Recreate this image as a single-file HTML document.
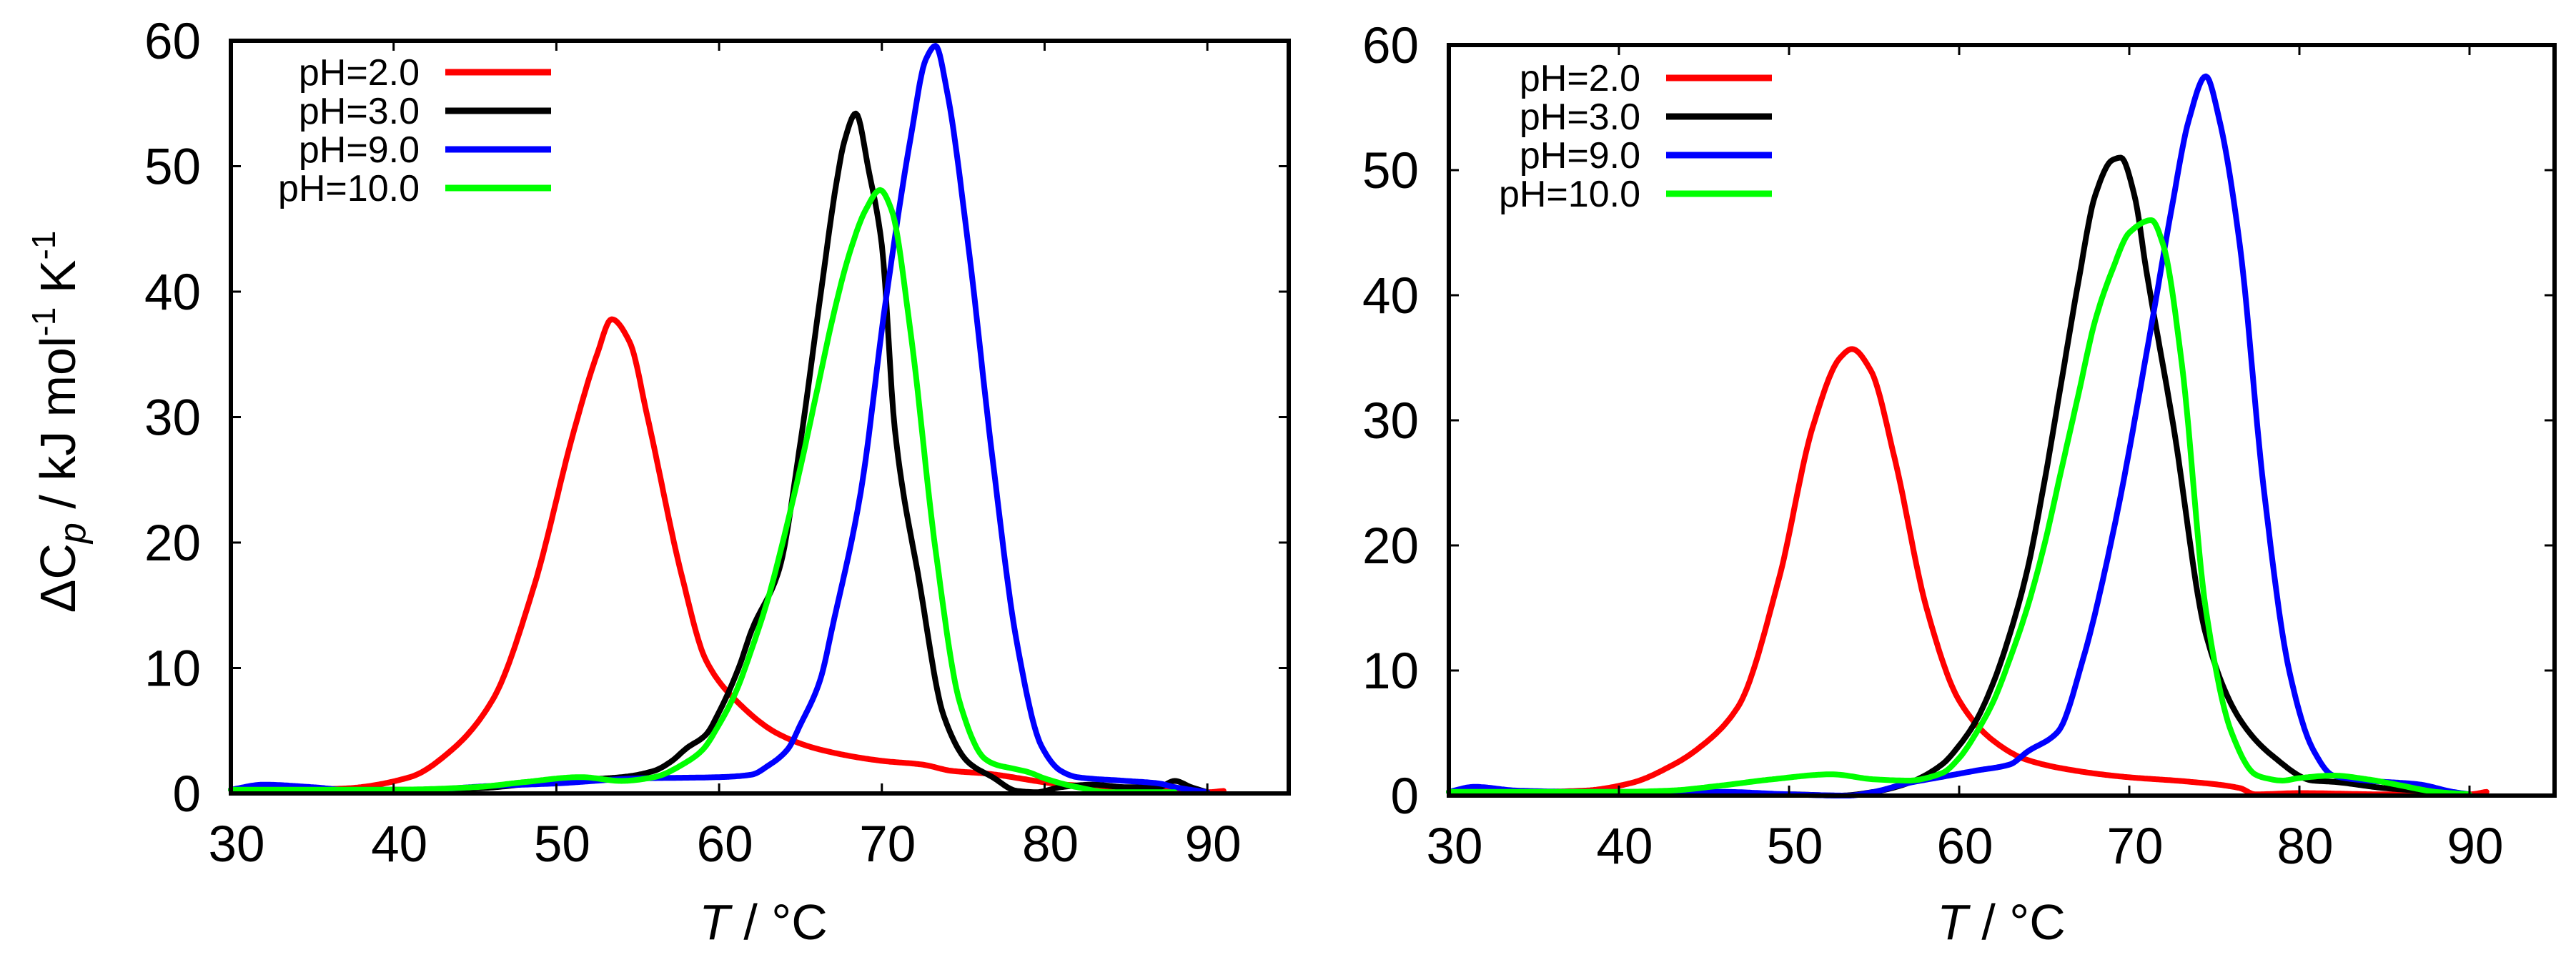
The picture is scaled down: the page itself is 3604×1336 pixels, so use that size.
<!DOCTYPE html>
<html><head><meta charset="utf-8"><style>
html,body{margin:0;padding:0;background:#fff;}
svg{display:block;font-family:"Liberation Sans",sans-serif;}
</style></head><body>
<svg id="fig" width="3604" height="1336" viewBox="0 0 3604 1336" xmlns="http://www.w3.org/2000/svg"></svg>
<script>
// ---- Data (left panel) ----
const L_red_T=[30,34,37,41,43.6,46.1,48.6,51.1,52.5,53.4,54.5,55.6,57.7,59.2,61.2,63.7,66.2,70,72.5,74.3,76.3,81.3,86,88,90,91];
const L_red_V=[0.3,0.3,0.4,1.3,3.5,7.5,16.4,29,35,37.8,36,30,17.4,10.6,7.2,4.7,3.5,2.6,2.3,1.8,1.6,0.7,0.4,0.3,0.1,0.2];
const L_blk_T=[30,35,40,45,50,54,56,57,58,59.2,60,61.2,62,63.7,65,66.2,67.2,67.7,68.4,69.2,70,70.8,72.3,73.8,75.3,76.8,78.3,79.5,81,83,85,87,88,89,90];
const L_blk_V=[0.3,0.3,0.3,0.4,1,1.3,1.8,2.5,3.6,4.7,6.5,10,13,17.9,28,39.4,48.6,52,54.2,49.6,43.7,29,16.9,6.2,2.5,1.3,0.2,0.1,0.5,0.7,0.5,0.5,1,0.5,0.1];
const L_blu_T=[30,32,35,38,42,46,50,55,60,62,63,64.2,65,66.2,67,68.7,70.2,71.8,72.7,73.3,74,75.3,76.8,78.3,79.8,81,82,85,87,88,90];
const L_blu_V=[0.3,0.7,0.5,0.2,0.3,0.6,0.8,1.2,1.3,1.5,2.2,3.5,5.5,9,13.5,24,38.9,52.5,58.5,59.6,56,43.8,26.7,12,3.8,1.8,1.3,1,0.8,0.5,0.1];
const L_grn_T=[30,35,40,45,48,51.5,54,56,58,59,60,61,62,63,64,65,66,67,68,69,69.9,70.6,71.8,73.3,74.8,76.3,77,78,79,80,82,84,88];
const L_grn_V=[0.3,0.3,0.3,0.5,0.9,1.3,1.0,1.3,2.5,3.5,5.5,8,11.5,15.5,20.5,26,32,38,43,46.5,48.1,46.5,36.4,19.4,7.2,2.8,2.3,2,1.7,1.2,0.5,0.1,0.1];
// ---- Data (right panel) ----
const R_red_T=[30,35,38,40.7,43.1,44.6,47,49.4,51.4,53,53.7,54.8,56.2,58.1,60,62,63.9,66.8,69.7,73.6,76.5,77.4,80,85,90,91];
const R_red_V=[0.3,0.3,0.4,1,2.4,3.7,7.1,17.3,29.5,35,35.7,34,27,14.9,7.6,4.4,2.9,2,1.5,1.1,0.6,0.1,0.2,0.1,0.1,0.3];
const R_blk_T=[30,35,38,40,45,50,53,55,57,59,60,61,62,63,64,65,66,67,68,69,69.5,70.3,71,72.6,74.5,76.5,78.4,80.8,82,85,88,90];
const R_blk_V=[0.3,0.3,0.3,0.2,0.1,0.1,0,0.3,1,2.5,4,6,9,13,18,25,33,41,48,50.8,51,48,42,29.5,12.9,6.1,3.2,1.2,1.1,0.6,0.3,0.1];
const R_blu_T=[30,31.5,34,38,43,46,50,53.5,55,57,59,61,63,64,65.8,67.3,69.2,71.2,72.5,73.5,74.5,75.3,76.5,77.9,79.4,80.8,82,84,87,89,90];
const R_blu_V=[0.3,0.7,0.4,0.3,0.3,0.3,0.1,0,0.3,1,1.5,2,2.5,3.5,5.1,11,22,36.8,47,54,57.5,54,44,24.6,10,3.7,1.6,1.2,0.9,0.3,0.1];
const R_grn_T=[30,35,40,43,46,49,52.5,55,57,59,60,61,62,63,64,65,66,67,68,69,70,71.3,72,73.1,74.5,76,77.4,78,79,80,82,84,86,88,90];
const R_grn_V=[0.3,0.3,0.3,0.4,0.8,1.3,1.7,1.3,1.2,1.8,3,5,7.5,11,15,20,26,32,38,42,45,46,44,34.4,14.9,5.1,1.7,1.4,1.2,1.4,1.6,1.3,0.8,0.3,0.1];
const xTicks=[30,40,50,60,70,80,90];
const yTicks=[0,10,20,30,40,50,60];
const legendLabels=["pH=2.0","pH=3.0","pH=9.0","pH=10.0"];
const colors=["#ff0000","#000000","#0000ff","#00ff00"];

const NS="http://www.w3.org/2000/svg";
const svg=document.getElementById('fig');
function mk(tag,attrs,parent){const e=document.createElementNS(NS,tag);for(const k in attrs)e.setAttribute(k,attrs[k]);(parent||svg).appendChild(e);return e;}

// monotone cubic (Fritsch-Carlson) interpolation, sampled densely
function monotone(T,V){
  const n=T.length,d=[],m=new Array(n);
  for(let i=0;i<n-1;i++)d.push((V[i+1]-V[i])/(T[i+1]-T[i]));
  m[0]=d[0];m[n-1]=d[n-2];
  for(let i=1;i<n-1;i++){
    if(d[i-1]*d[i]<=0)m[i]=0;
    else{const w1=2*(T[i+1]-T[i])+(T[i]-T[i-1]),w2=(T[i+1]-T[i])+2*(T[i]-T[i-1]);m[i]=(w1+w2)/(w1/d[i-1]+w2/d[i]);}
  }
  const out=[];
  for(let i=0;i<n-1;i++){
    const h=T[i+1]-T[i];const steps=Math.max(2,Math.ceil(h/0.1));
    for(let s=0;s<steps;s++){
      const t=s/steps,t2=t*t,t3=t2*t;
      const v=(2*t3-3*t2+1)*V[i]+(t3-2*t2+t)*h*m[i]+(-2*t3+3*t2)*V[i+1]+(t3-t2)*h*m[i+1];
      out.push([T[i]+t*h,v]);
    }
  }
  out.push([T[n-1],V[n-1]]);
  return out;
}

function panel(p){
  const g=mk('g',{});
  
  
  const X=t=>p.x0+(t-30)*(p.x1-p.x0)/65;
  const Y=v=>p.y0-(v)*(p.y0-p.y1)/60;
  p.series.forEach((s,i)=>{
    const pts=monotone(s.T,s.V).map(q=>X(q[0]).toFixed(1)+","+Y(q[1]).toFixed(1)).join(" ");
    const pl=mk('polyline',{points:pts,fill:'none',stroke:colors[i],'stroke-width':8,'stroke-linejoin':'round','stroke-linecap':'round'},g);
    
    
  });
  xTicks.forEach(t=>{
    const x=X(t);
    mk('line',{x1:x,y1:p.y0,x2:x,y2:p.y0-14,stroke:'#000','stroke-width':3},g);
    mk('line',{x1:x,y1:p.y1,x2:x,y2:p.y1+14,stroke:'#000','stroke-width':3},g);
    const tx=mk('text',{x:x+8,y:p.y0+95,'font-size':71,'text-anchor':'middle'},g);
    tx.textContent=t;
    
    
  });
  yTicks.forEach(v=>{
    const y=Y(v);
    mk('line',{x1:p.x0,y1:y,x2:p.x0+14,y2:y,stroke:'#000','stroke-width':3},g);
    mk('line',{x1:p.x1,y1:y,x2:p.x1-14,y2:y,stroke:'#000','stroke-width':3},g);
    const tx=mk('text',{x:p.x0-42,y:y+25,'font-size':71,'text-anchor':'end'},g);
    tx.textContent=v;
    
    
  });
  const fr=mk('rect',{x:p.x0,y:p.y1,width:p.x1-p.x0,height:p.y0-p.y1,fill:'none',stroke:'#000','stroke-width':6},g);
  
  
  legendLabels.forEach((lab,i)=>{
    const y=p.legY+i*54;
    const t=mk('text',{x:p.legTextX,y:y+18,'font-size':52,'text-anchor':'end'},g);
    t.textContent=lab;
    
    
    const l=mk('line',{x1:p.legTextX+36,y1:y,x2:p.legTextX+184,y2:y,stroke:colors[i],'stroke-width':9},g);
    
    
  });
  const xt=mk('text',{x:p.xTitleX,y:1314,'font-size':70,'text-anchor':'middle'},g);
  xt.innerHTML='<tspan font-style="italic">T</tspan> / °C';
  
  
}

panel({name:'left-panel',x0:323,x1:1803,y0:1110,y1:57,legY:101,legTextX:587,xTitleX:1068,
  series:[{key:'ph2',T:L_red_T,V:L_red_V},{key:'ph3',T:L_blk_T,V:L_blk_V},{key:'ph9',T:L_blu_T,V:L_blu_V},{key:'ph10',T:L_grn_T,V:L_grn_V}]});
panel({name:'right-panel',x0:2027,x1:3574,y0:1113,y1:63,legY:109,legTextX:2295,xTitleX:2800,
  series:[{key:'ph2',T:R_red_T,V:R_red_V},{key:'ph3',T:R_blk_T,V:R_blk_V},{key:'ph9',T:R_blu_T,V:R_blu_V},{key:'ph10',T:R_grn_T,V:R_grn_V}]});

const yt=mk('text',{x:0,y:0,'font-size':70,'text-anchor':'middle',transform:'translate(105,590) rotate(-90)'});
yt.innerHTML='ΔC<tspan font-style="italic" font-size="52" dy="14">p</tspan><tspan dy="-14"> / kJ mol</tspan><tspan font-size="46" dy="-28">-1</tspan><tspan dy="28"> K</tspan><tspan font-size="46" dy="-28">-1</tspan>';


</script>
</body></html>
